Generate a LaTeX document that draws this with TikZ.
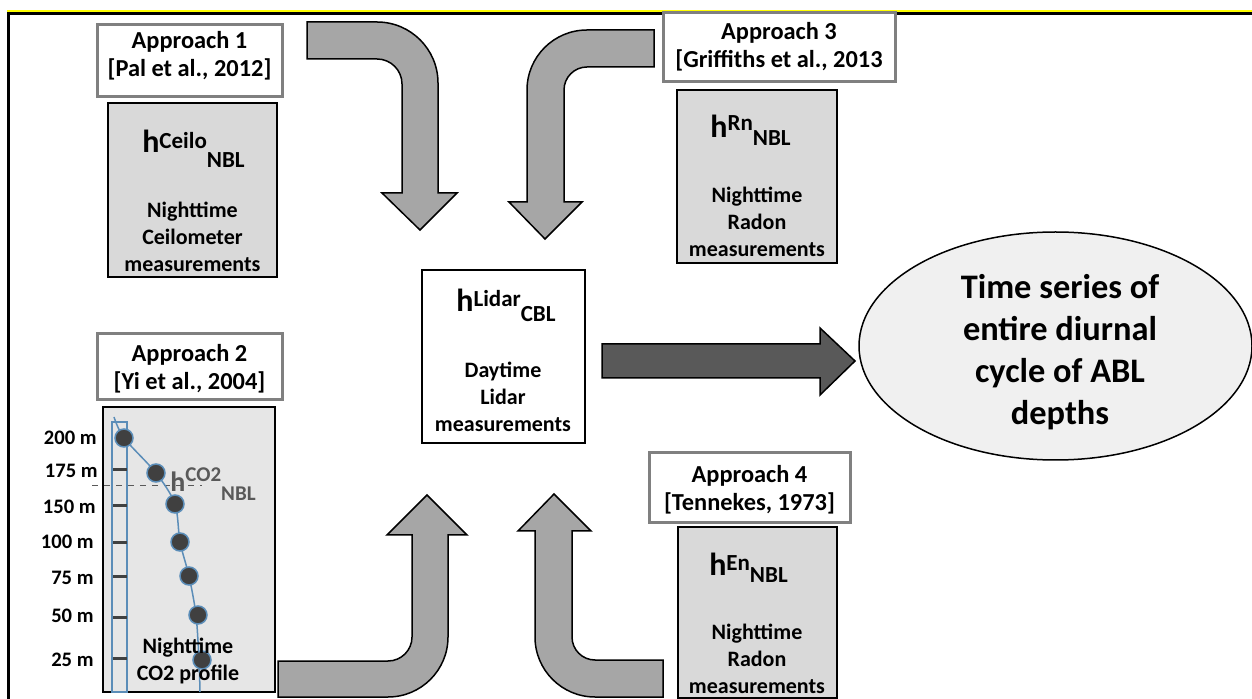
\documentclass[tikz,border=0pt]{standalone}
\usepackage{fontspec}
\setmainfont{Carlito}
\usetikzlibrary{shapes.geometric}
\definecolor{frameyellow}{HTML}{FFFF00}
\definecolor{apgray}{HTML}{808080}
\definecolor{boxgray}{HTML}{D9D9D9}
\definecolor{co2gray}{HTML}{E6E6E6}
\definecolor{arrowgray}{HTML}{A6A6A6}
\definecolor{darkarrow}{HTML}{595959}
\definecolor{ellgray}{HTML}{F0F0F0}
\definecolor{towerblue}{HTML}{5B8DB8}
\definecolor{dotgray}{HTML}{404040}
\definecolor{hgray}{HTML}{595959}
\newcommand\myhsym[4]{{\fontsize{16}{16}\selectfont h}{\fontsize{11.5}{11.5}\selectfont\raisebox{#3}{#1}\raisebox{#4}{#2}}}
\begin{document}
\begin{tikzpicture}[x=0.5pt,y=-0.5pt,
  apbox/.style={draw=apgray,line width=1.5pt,fill=white,inner sep=0pt},
  measbox/.style={draw=black,line width=1pt,fill=boxgray,inner sep=0pt},
  aptext/.style={align=center,inner sep=0pt,font=\fontsize{12.2}{14}\selectfont\bfseries},
  meastext/.style={align=center,inner sep=0pt,font=\fontsize{11}{13.5}\selectfont\bfseries},
  htext/.style={anchor=base,inner sep=0pt,font=\bfseries},
  bentarrow/.style={draw=black,line width=0.75pt,fill=arrowgray,line join=miter},
  scaletext/.style={anchor=east,inner sep=0pt,font=\fontsize{10.3}{12}\selectfont\bfseries},
  co2dot/.style={circle,draw=towerblue,line width=0.75pt,fill=dotgray,minimum size=9pt,inner sep=0pt},
  tick/.style={draw=dotgray,line width=1.5pt}
]
\useasboundingbox (0,0) rectangle (1252,699);
\fill[white] (0,0) rectangle (1252,699);

% frame
\draw[frameyellow,line width=1pt] (7,11) -- (1252,11);
\draw[black,line width=1.35pt] (7,13.3) -- (1252,13.3);
\draw[black,line width=1.35pt] (8.7,12) -- (8.7,699);

% Approach 1
\node[apbox,minimum width=92.5pt,minimum height=36pt] (ap1) at (189.5,61) {};
\node[aptext] (ap1t) at (189.5,56) {Approach 1\\{[}Pal et al., 2012{]}};
\node[measbox,minimum width=84.5pt,minimum height=87pt] (ceilo) at (192.5,190) {};
\node[htext] (ceiloh) at (193.5,153) {\myhsym{Ceilo}{NBL}{2pt}{-7.5pt}};
\node[meastext] (ceilot) at (192.5,237) {Nighttime\\Ceilometer\\measurements};

% Approach 2
\node[apbox,minimum width=92.5pt,minimum height=33pt] (ap2) at (189.5,367) {};
\node[aptext] (ap2t) at (189.5,369) {Approach 2\\{[}Yi et al., 2004{]}};
\node[draw=black,line width=1pt,fill=co2gray,minimum width=86pt,minimum height=142.5pt,inner sep=0pt] (co2) at (189,549.5) {};

% tower
\draw[towerblue,line width=0.75pt] (112,422) rectangle (127,692);
\foreach \yy in {470,506,542,576,617,658} \draw[tick] (113,\yy) -- (127,\yy);
\draw[hgray,line width=0.4pt,dashed] (92,485) -- (202,485);
\draw[towerblue,line width=0.75pt] plot[smooth,tension=0.5] coordinates {(114,417) (124,438) (156,473) (175,504) (180,542) (189,576) (196,615) (199,660) (200,692)};
\node[co2dot] (d1) at (124,438) {};
\node[co2dot] (d2) at (156,473) {};
\node[co2dot] (d3) at (175,504) {};
\node[co2dot] (d4) at (180,542) {};
\node[co2dot] (d5) at (189,576) {};
\node[co2dot] (d6) at (198,615) {};
\node[co2dot] (d7) at (202,660) {};
\node[scaletext] (s200) at (97,438) {200 m};
\node[scaletext] (s175) at (98,471) {175 m};
\node[scaletext] (s150) at (96,507) {150 m};
\node[scaletext] (s100) at (94,542) {100 m};
\node[scaletext] (s75) at (94,578) {75 m};
\node[scaletext] (s50) at (94,616) {50 m};
\node[scaletext] (s25) at (94,660) {25 m};
\node[htext,text=hgray] (co2h) at (213,492) {{\fontsize{14}{14}\selectfont h}{\fontsize{10.5}{10.5}\selectfont\raisebox{5pt}{CO2}\raisebox{-4.5pt}{NBL}}};
\node[meastext] (co2t) at (188,661) {Nighttime\\CO2 profile};

% Approach 3
\node[apbox,minimum width=116pt,minimum height=34.5pt] (ap3) at (779,47.5) {};
\node[aptext] (ap3t) at (779,47) {Approach 3\\{[}Griffiths et al., 2013};
\node[measbox,minimum width=80pt,minimum height=86.5pt] (rn) at (757,176.5) {};
\node[htext] (rnh) at (750.5,138) {\myhsym{Rn}{NBL}{3.5pt}{-4pt}};
\node[meastext] (rnt) at (757,222) {Nighttime\\Radon\\measurements};

% Approach 4
\node[apbox,minimum width=100.5pt,minimum height=35pt] (ap4) at (749.5,488) {};
\node[aptext] (ap4t) at (749.5,489.5) {Approach 4\\{[}Tennekes, 1973{]}};
\node[measbox,minimum width=79.5pt,minimum height=85.5pt] (en) at (757.5,612.5) {};
\node[htext] (enh) at (748.5,575) {\myhsym{En}{NBL}{2.5pt}{-3.5pt}};
\node[meastext] (ent) at (757,659) {Nighttime\\Radon\\measurements};

% Lidar
\node[draw=black,line width=1pt,fill=white,minimum width=81.5pt,minimum height=86.5pt,inner sep=0pt] (lidar) at (503.5,356.5) {};
\node[htext] (lidarh) at (506,312) {\myhsym{Lidar}{CBL}{2.5pt}{-5pt}};
\node[meastext] (lidart) at (503,397) {Daytime\\Lidar\\measurements};

% Ellipse
\node[ellipse,draw=black,line width=0.75pt,fill=ellgray,minimum width=196.5pt,minimum height=114pt,inner sep=0pt] (ell) at (1055.5,346) {};
\node[align=center,inner sep=0pt,font=\fontsize{17.2}{21}\selectfont\bfseries] (ellt) at (1060,352) {Time series of\\entire diurnal\\cycle of ABL\\depths};

% bent arrows
\draw[bentarrow] (307,22) -- (377,22) arc (-90:0:61) -- (438,193) -- (457,193) -- (420,230) -- (382,193) -- (402,193) -- (402,84) arc (0:-90:25) -- (307,59) -- cycle;
\draw[bentarrow] (654,30) -- (587,30) arc (-90:-180:60) -- (527,202) -- (509,202) -- (545,239) -- (582,202) -- (564,202) -- (564,90) arc (180:270:23) -- (654,67) -- cycle;
\draw[bentarrow] (278,697) -- (388,697) arc (90:0:60) -- (448,535) -- (467,535) -- (427,495) -- (387,535) -- (412,535) -- (412,637) arc (0:90:24) -- (278,661) -- cycle;
\draw[bentarrow] (663,697) -- (595,697) arc (90:180:60) -- (535,531) -- (518,531) -- (554,494) -- (591,531) -- (572,531) -- (572,637) arc (180:90:23) -- (663,660) -- cycle;

% dark arrow
\draw[draw=black,line width=0.75pt,fill=darkarrow] (602,344) -- (820,344) -- (820,328) -- (855,361) -- (820,395) -- (820,378) -- (602,378) -- cycle;
\end{tikzpicture}
\end{document}
